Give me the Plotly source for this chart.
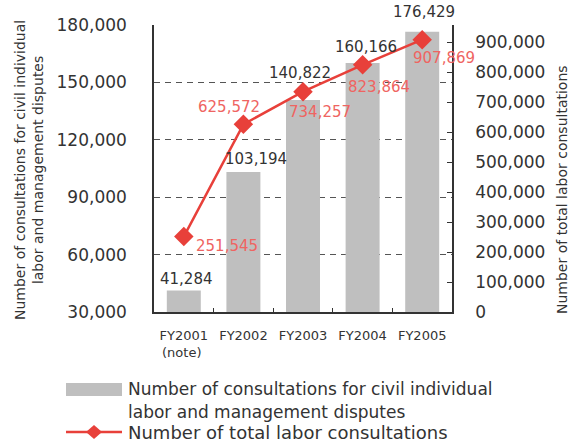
import plotly.graph_objects as go

# ---- data ----
categories = ["FY2001<br>(note) ", "FY2002", "FY2003", "FY2004", "FY2005"]
civil_disputes = [41284, 103194, 140822, 160166, 176429]
total_consultations = [251545, 625572, 734257, 823864, 907869]
left_ticks = [30000, 60000, 90000, 120000, 150000, 180000]
right_ticks = [0, 100000, 200000, 300000, 400000, 500000, 600000, 700000, 800000, 900000]

bar_name = "Number of consultations for civil individual labor and management disputes"
line_name = "Number of total labor consultations"

# label offsets (pixels)
bar_lbl_dx = [3, 13, -3, 3, 2]
bar_lbl_dy = [11, 13, 27, 16, 20]
line_lbl_dx = [43, -14, 17, 16, 22]
line_lbl_dy = [-9, 17, -20, -22, -18]

FONT = "DejaVu Sans"
TXT = "#333333"
RED = "#E8403A"
RED_TXT = "#EF6461"
GRAY = "#BFBFBF"

W, H = 573, 443
L, R, T, B = 154, 121, 25, 131
PW = W - L - R
PH = H - T - B


def px_x(x):
    return (x - L) / PW


def px_y(y):
    return (H - B - y) / PH


fig = go.Figure()
fig.add_trace(go.Bar(x=categories, y=civil_disputes, name=bar_name,
                     marker=dict(color=GRAY, line=dict(width=0)),
                     width=0.57, showlegend=False))
fig.add_trace(go.Scatter(x=categories, y=total_consultations, name=line_name,
                         yaxis="y2", mode="lines+markers",
                         line=dict(color=RED, width=2.5),
                         marker=dict(symbol="diamond", size=15, color=RED),
                         showlegend=False, cliponaxis=False))

ann = []
for c, v, dx, dy in zip(categories, civil_disputes, bar_lbl_dx, bar_lbl_dy):
    ann.append(dict(x=c, y=v, xref="x", yref="y", text=f"{v:,}", showarrow=False,
                    xshift=dx, yshift=dy, font=dict(family=FONT, size=15, color=TXT),
                    xanchor="center", yanchor="middle"))
for c, v, dx, dy in zip(categories, total_consultations, line_lbl_dx, line_lbl_dy):
    ann.append(dict(x=c, y=v, xref="x", yref="y2", text=f"{v:,}", showarrow=False,
                    xshift=dx, yshift=dy, font=dict(family=FONT, size=15, color=RED_TXT),
                    xanchor="center", yanchor="middle"))

# axis titles
ann.append(dict(x=px_x(29), y=px_y(170), xref="paper", yref="paper",
                text="Number of consultations for civil individual<br>labor and management disputes",
                textangle=-90, showarrow=False, font=dict(family=FONT, size=14, color=TXT),
                xanchor="center", yanchor="middle"))
ann.append(dict(x=px_x(562), y=px_y(190), xref="paper", yref="paper",
                text=line_name, textangle=-90, showarrow=False,
                font=dict(family=FONT, size=14, color=TXT),
                xanchor="center", yanchor="middle"))

# legend texts
leg_font = dict(family=FONT, size=17, color=TXT)
ann.append(dict(x=px_x(126), y=px_y(389), xref="paper", yref="paper",
                text="Number of consultations for civil individual", showarrow=False,
                font=leg_font, xanchor="left", yanchor="middle"))
ann.append(dict(x=px_x(126), y=px_y(412), xref="paper", yref="paper",
                text="labor and management disputes", showarrow=False,
                font=leg_font, xanchor="left", yanchor="middle"))
ann.append(dict(x=px_x(126), y=px_y(433), xref="paper", yref="paper",
                text=line_name, showarrow=False,
                font=dict(family=FONT, size=18, color=TXT), xanchor="left", yanchor="middle"))

shapes = [
    dict(type="rect", xref="paper", yref="paper", x0=px_x(66), x1=px_x(122),
         y0=px_y(396), y1=px_y(383), fillcolor=GRAY, line=dict(width=0)),
    dict(type="line", xref="paper", yref="paper", x0=px_x(66), x1=px_x(122),
         y0=px_y(432), y1=px_y(432), line=dict(color=RED, width=2.5)),
    dict(type="path", xref="paper", yref="paper", xsizemode="pixel", ysizemode="pixel",
         xanchor=px_x(94), yanchor=px_y(432), path="M -8,0 L 0,7 L 8,0 L 0,-7 Z",
         fillcolor=RED, line=dict(width=0)),
]

fig.update_layout(
    width=W, height=H,
    margin=dict(l=L, r=R, t=T, b=B, autoexpand=False),
    paper_bgcolor="white", plot_bgcolor="white",
    font=dict(family=FONT, color=TXT),
    annotations=ann, shapes=shapes,
    bargap=0.43,
    xaxis=dict(type="category", range=[-0.5, 4.5], showline=True, linecolor="#333333",
               linewidth=1.5, ticks="inside", tickson="boundaries", ticklen=4,
               tickcolor="#333333", showgrid=False,
               tickfont=dict(family=FONT, size=13, color=TXT), ticklabelstandoff=11),
    yaxis=dict(range=[30000, 180000], tickvals=left_ticks, tickformat=",d",
               showline=True, linecolor="#333333", linewidth=1.5, ticks="",
               showgrid=True, gridcolor="#555555", griddash="6px,5px", gridwidth=1,
               zeroline=False, tickfont=dict(family=FONT, size=17, color=TXT),
               ticklabelstandoff=22),
    yaxis2=dict(range=[0, 956667], tickvals=right_ticks, tickformat=",d",
                overlaying="y", side="right", showline=True, linecolor="#333333",
                linewidth=1.5, ticks="inside", ticklen=5, tickcolor="#333333",
                showgrid=False, zeroline=False,
                tickfont=dict(family=FONT, size=17, color=TXT), ticklabelstandoff=18),
)

fig.write_html("out.html", config={"displayModeBar": False},
               post_script="document.body.style.margin='0';document.body.style.overflow='hidden';")
